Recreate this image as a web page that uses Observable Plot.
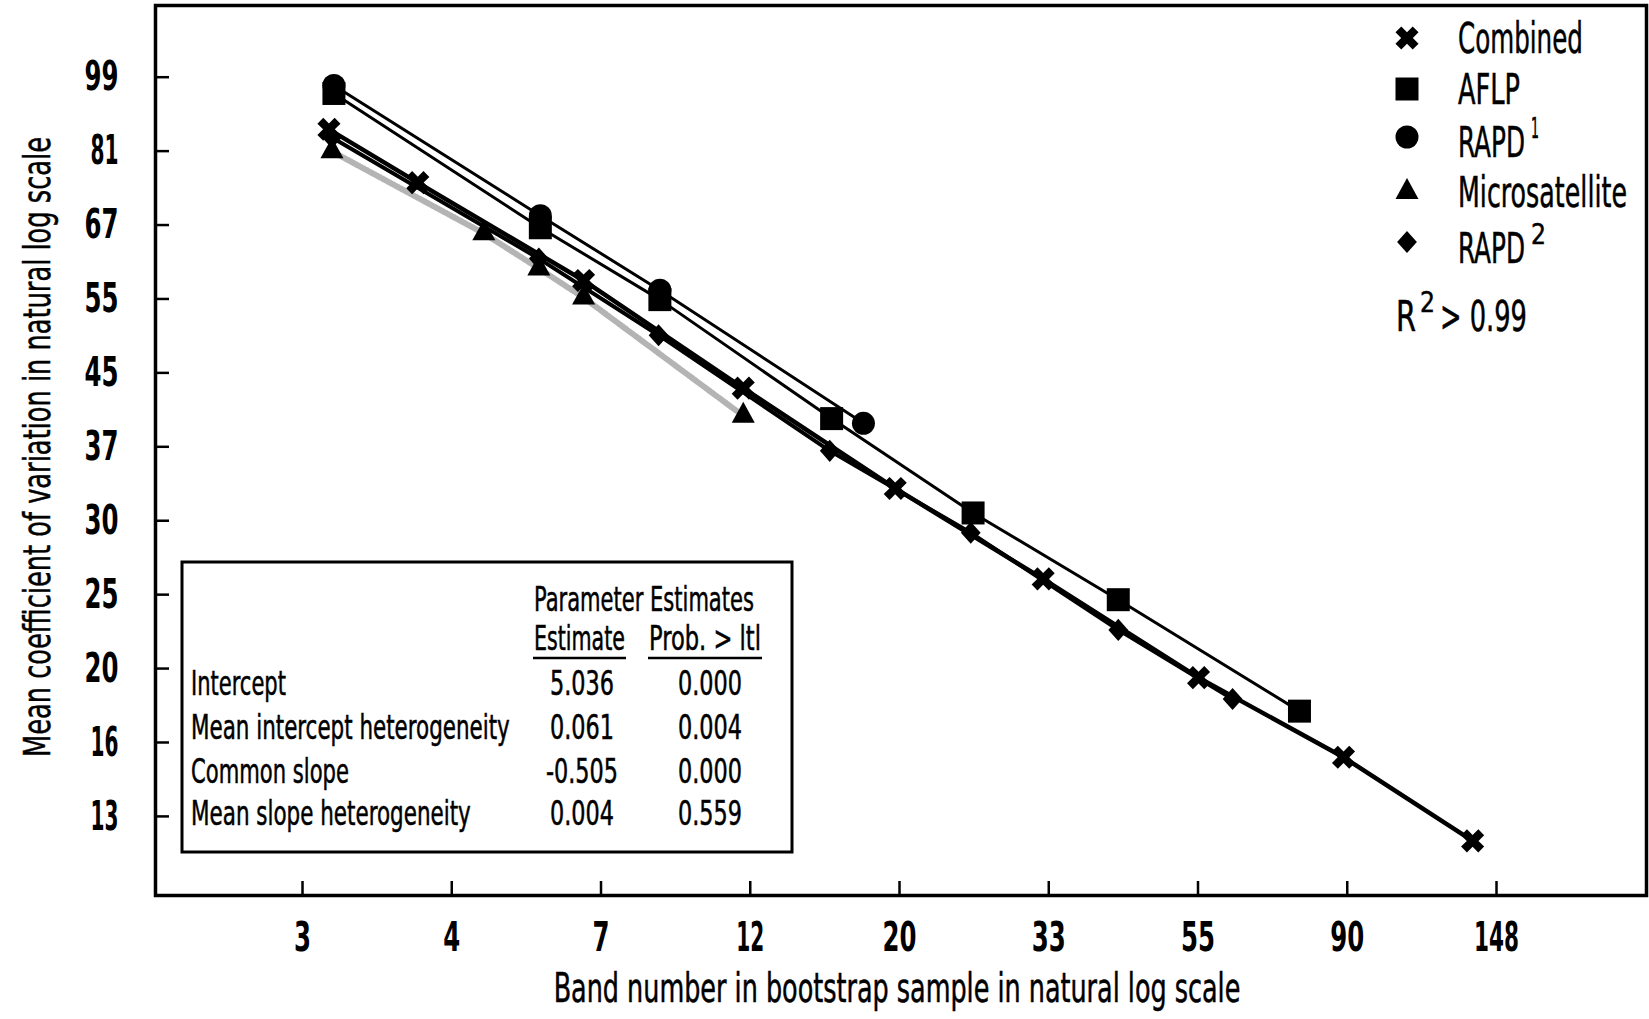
<!DOCTYPE html>
<html>
<head>
<meta charset="utf-8">
<script src="https://cdn.jsdelivr.net/npm/d3@7"></script>
<script src="https://cdn.jsdelivr.net/npm/@observablehq/plot@0.6"></script>
<style>
  html, body { margin: 0; padding: 0; background: #fff; overflow: hidden; }
</style>
</head>
<body>
<div id="chart"></div>
<script>
// ---------- data ----------
const seriesNames = ["Combined", "AFLP", "RAPD1", "Microsatellite", "RAPD2"];

const combinedBand = [2.97, 4.0, 6.97, 11.9, 19.8, 32.5, 54.7, 88.9, 137];
const combinedCV   = [86.4, 74.8, 57.4, 42.9, 32.7, 25.6, 19.6, 15.8, 12.6];

const aflpBand = [3.02, 6.03, 9.0, 16.0, 25.7, 41.8, 76.7];
const aflpCV   = [95.2, 66.2, 54.5, 39.5, 30.6, 24.2, 17.9];

const rapd1Band = [3.02, 6.03, 9.0, 17.8];
const rapd1CV   = [97.3, 68.4, 55.9, 39.0];

const microBand = [3.0, 4.99, 6.0, 6.97, 11.9];
const microCV   = [81.4, 65.2, 59.3, 54.8, 39.8];

const rapd2Band = [3.0, 6.0, 8.96, 15.9, 25.5, 41.8, 61.3];
const rapd2CV   = [84.5, 60.9, 49.5, 36.2, 29.0, 22.3, 18.5];

// axis ticks: positions are natural-log values, labels as printed
const xTickLn     = [1, 1.5, 2, 2.5, 3, 3.5, 4, 4.5, 5];
const xTickLabels = ["3", "4", "7", "12", "20", "33", "55", "90", "148"];
const yTickLn     = [2.6, 2.8, 3.0, 3.2, 3.4, 3.6, 3.8, 4.0, 4.2, 4.4, 4.6];
const yTickLabels = ["13", "16", "20", "25", "30", "37", "45", "55", "67", "81", "99"];

const xTitle = "Band number in bootstrap sample in natural log scale";
const yTitle = "Mean coefficient of variation in natural log scale";

const tableHeader = "Parameter Estimates";
const colHeaders  = ["Estimate", "Prob. > ltl"];
const paramNames  = ["Intercept", "Mean intercept heterogeneity", "Common slope", "Mean slope heterogeneity"];
const paramEst    = ["5.036", "0.061", "-0.505", "0.004"];
const paramProb   = ["0.000", "0.004", "0.000", "0.559"];
const r2Text      = "> 0.99";

// ---------- build table ----------
function rows(name, bands, cvs) { return bands.map((b, i) => ({series: name, band: b, cv: cvs[i]})); }
const data = [
  ...rows("Combined", combinedBand, combinedCV),
  ...rows("AFLP", aflpBand, aflpCV),
  ...rows("RAPD1", rapd1Band, rapd1CV),
  ...rows("Microsatellite", microBand, microCV),
  ...rows("RAPD2", rapd2Band, rapd2CV)
];
const of = name => data.filter(d => d.series === name);

const xTicks = xTickLn.map(Math.exp);
const yTicks = yTickLn.map(Math.exp);
const xLab = d => xTickLabels[xTicks.findIndex(t => Math.abs(t - d) < 1e-9)];
const yLab = d => yTickLabels[yTicks.findIndex(t => Math.abs(t - d) < 1e-9)];

// ---------- marker shapes ----------
const rOf = size => Math.sqrt(size / Math.PI);
const symX = {draw(c, size) {
  const r = rOf(size), L = r * 1.06, w = r * 0.36;
  const p = [[-w,-L],[w,-L],[w,-w],[L,-w],[L,w],[w,w],[w,L],[-w,L],[-w,w],[-L,w],[-L,-w],[-w,-w]]
    .map(([x, y]) => [(x - y) / Math.SQRT2, (x + y) / Math.SQRT2]);
  c.moveTo(p[0][0], p[0][1]); for (let i = 1; i < p.length; i++) c.lineTo(p[i][0], p[i][1]); c.closePath();
}};
const symSquare = {draw(c, size) { const r = rOf(size); c.rect(-r, -r, 2 * r, 2 * r); }};
const symCircle = {draw(c, size) { const r = rOf(size); c.moveTo(r, 0); c.arc(0, 0, r, 0, 2 * Math.PI); }};
const symTriangle = {draw(c, size) {
  const r = rOf(size), h = 1.82 * r;
  c.moveTo(0, -2 * h / 3); c.lineTo(r, h / 3); c.lineTo(-r, h / 3); c.closePath();
}};
const symDiamond = {draw(c, size) {
  const r = rOf(size), hw = 0.86 * r, hh = 0.96 * r;
  c.moveTo(0, -hh); c.lineTo(hw, 0); c.lineTo(0, hh); c.lineTo(-hw, 0); c.closePath();
}};
const symbolOf = {Combined: symX, AFLP: symSquare, RAPD1: symCircle, Microsatellite: symTriangle, RAPD2: symDiamond};

// ---------- chart ----------
const FONT = '"Liberation Sans Narrow", "DejaVu Sans Condensed", "Arial Narrow", "Roboto Condensed", sans-serif';
const W = 1649, H = 1019;
const mL = 155, mR = 3, mT = 5, mB = 124;

const chart = Plot.plot({
  width: W, height: H,
  marginLeft: mL, marginRight: mR, marginTop: mT, marginBottom: mB,
  style: {fontFamily: FONT, background: "white", color: "black", overflow: "visible"},
  x: {type: "log", domain: [Math.exp(0.5075), Math.exp(5.5025)]},
  y: {type: "log", domain: [Math.exp(2.386), Math.exp(4.794)]},
  marks: [
    // series lines
    Plot.line(of("Microsatellite"), {x: "band", y: "cv", stroke: "#b4b4b4", strokeWidth: 6, strokeDasharray: "1.2 1.8"}),
    Plot.line(of("AFLP"), {x: "band", y: "cv", stroke: "black", strokeWidth: 3}),
    Plot.line(of("RAPD1"), {x: "band", y: "cv", stroke: "black", strokeWidth: 3}),
    Plot.line(of("RAPD2"), {x: "band", y: "cv", stroke: "black", strokeWidth: 4}),
    Plot.line(of("Combined"), {x: "band", y: "cv", stroke: "black", strokeWidth: 4.5}),
    // markers
    ...seriesNames.map(s => Plot.dot(of(s), {x: "band", y: "cv", symbol: symbolOf[s], fill: "black", stroke: "none", r: 11.5})),
    // axes: inward ticks
    Plot.axisX(xTicks, {anchor: "bottom", tickSize: -14, strokeWidth: 2.5, tickFormat: () => "", label: null}),
    Plot.axisY(yTicks, {anchor: "left", tickSize: -14, strokeWidth: 2.5, tickFormat: () => "", label: null}),
    // axes: labels
    Plot.axisX(xTicks, {anchor: "bottom", tickSize: 0, tickPadding: 26, tickFormat: xLab, fontSize: 41, fontWeight: "bold", label: null}),
    Plot.axisY(yTicks, {anchor: "left", tickSize: 0, tickPadding: 37, tickFormat: yLab, fontSize: 41, fontWeight: "bold", label: null}),
    Plot.frame({stroke: "black", strokeWidth: 3.5})
  ]
});
document.getElementById("chart").appendChild(chart);

// ---------- condensed tick labels (the printed face is very narrow) ----------
const svg = d3.select(chart);
const digitW = s => Array.from(s).reduce((a, ch) => a + (ch === "1" ? 11 : 17), 0);
svg.selectAll('g[aria-label="x-axis tick label"] text, g[aria-label="y-axis tick label"] text')
  .each(function() {
    const s = this.textContent;
    d3.select(this).attr("textLength", digitW(s)).attr("lengthAdjust", "spacingAndGlyphs");
  });

// ---------- annotations (titles, legend, parameter table) ----------
// text is drawn at its natural width, then squeezed horizontally to the printed width
function txt(g, s, x, y, size, len, anchor = "start", weight = "normal") {
  const holder = g.append("g").attr("transform", `translate(${x},${y})`);
  const t = holder.append("text").attr("font-size", size)
    .attr("font-family", FONT).attr("font-weight", weight).attr("fill", "black")
    .attr("stroke", "black").attr("stroke-width", 0.5)
    .attr("text-anchor", anchor).text(s);
  if (len) {
    const nat = t.node().getComputedTextLength() || len;
    t.attr("transform", `scale(${len / nat},1)`);
  }
  return t;
}

// axis titles
const titles = svg.append("g");
txt(titles, xTitle, 897, 1002, 40, 687, "middle");
txt(titles.append("g").attr("transform", "translate(50,447) rotate(-90)"), yTitle, 0, 0, 38, 620, "middle");

// legend
const leg = svg.append("g");
const legItems = [
  {s: "Combined",       label: "Combined",       my: 38,  ty: 53,  w: 125},
  {s: "AFLP",           label: "AFLP",           my: 89,  ty: 104, w: 62},
  {s: "RAPD1",          label: "RAPD",           my: 137, ty: 157, w: 67, sup: "1"},
  {s: "Microsatellite", label: "Microsatellite", my: 192, ty: 207, w: 169},
  {s: "RAPD2",          label: "RAPD",           my: 242, ty: 263, w: 67, sup: "2"}
];
legItems.forEach(it => {
  leg.append("path").attr("transform", `translate(1407,${it.my})`)
    .attr("d", d3.symbol(symbolOf[it.s], Math.PI * 11.5 * 11.5)()).attr("fill", "black");
  txt(leg, it.label, 1458, it.ty, 42, it.w);
  if (it.sup) txt(leg, it.sup, 1531, it.ty - 19, 28, it.sup === "1" ? 8 : 15);
});
txt(leg, "R", 1396, 331, 42, 20);
txt(leg, "2", 1420, 312, 28, 15);
txt(leg, r2Text, 1440, 331, 42, 87);

// parameter table box
const box = svg.append("g");
box.append("rect").attr("x", 182).attr("y", 562).attr("width", 610).attr("height", 290)
  .attr("fill", "white").attr("stroke", "black").attr("stroke-width", 3);
txt(box, tableHeader, 534, 611, 33, 220);
txt(box, colHeaders[0], 534, 650, 33, 91);
txt(box, colHeaders[1], 649, 650, 33, 112);
box.append("line").attr("x1", 533).attr("x2", 626).attr("y1", 658).attr("y2", 658).attr("stroke", "black").attr("stroke-width", 2.5);
box.append("line").attr("x1", 648).attr("x2", 762).attr("y1", 658).attr("y2", 658).attr("stroke", "black").attr("stroke-width", 2.5);
const rowBase = [695, 739, 783, 825];
const nameW = [95, 319, 158, 280];
paramNames.forEach((n, i) => {
  txt(box, n, 191, rowBase[i], 33, nameW[i]);
  txt(box, paramEst[i], 582, rowBase[i], 33, paramEst[i].startsWith("-") ? 72 : 64, "middle");
  txt(box, paramProb[i], 710, rowBase[i], 33, 64, "middle");
});
</script>
</body>
</html>
